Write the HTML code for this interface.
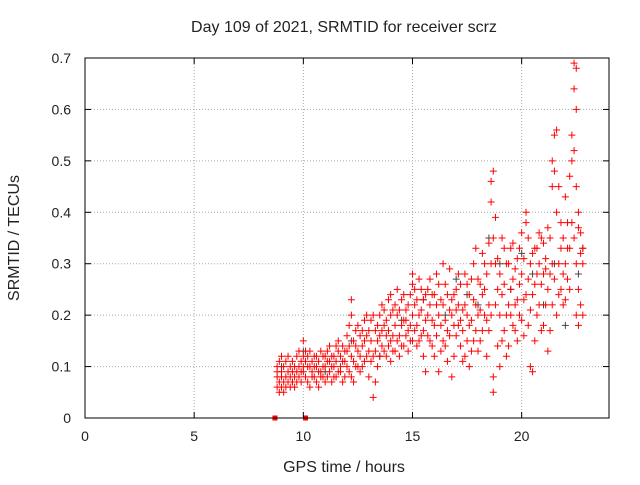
<!DOCTYPE html>
<html><head><meta charset="utf-8"><style>
body{margin:0;background:#fff;}
svg text{font-family:"Liberation Sans",sans-serif;font-size:14px;fill:#222;}
svg text.big{font-size:16px;}
</style></head><body>
<svg id="chart" width="640" height="480" xmlns="http://www.w3.org/2000/svg">
<rect width="640" height="480" fill="#fff"/>
<g id="grid"></g>
<g id="marks"></g>
<rect x="85" y="58" width="524" height="360" fill="none" stroke="#000" stroke-width="1"/>
<g id="axes"></g>
<text class="big" x="344" y="32" text-anchor="middle">Day 109 of 2021, SRMTID for receiver scrz</text>
<text class="big" x="344" y="472" text-anchor="middle">GPS time / hours</text>
<text class="big" x="19" y="238" text-anchor="middle" transform="rotate(-90 19 238)">SRMTID / TECUs</text>
</svg>
<script>
const xTicks=[0,5,10,15,20];
const yTicks=[0,0.1,0.2,0.3,0.4,0.5,0.6,0.7];
const yTickLabels=["0","0.1","0.2","0.3","0.4","0.5","0.6","0.7"];
const redSeries=[
[8.8,[0.08,0.1,0.06,0.09]],[8.9,[0.07,0.11,0.05]],[9.0,[0.09,0.06,0.12,0.08]],[9.1,[0.05,0.1,0.07]],
[9.2,[0.08,0.11,0.06]],[9.3,[0.09,0.07,0.12]],[9.4,[0.06,0.1,0.08]],[9.5,[0.09,0.07,0.11]],
[9.6,[0.08,0.1,0.06]],[9.7,[0.09,0.12,0.07]],[9.8,[0.1,0.08,0.13]],[9.9,[0.09,0.11,0.07]],
[10.0,[0.12,0.15,0.09,0.1]],[10.1,[0.08,0.11,0.13]],[10.2,[0.1,0.07,0.12]],[10.4,[0.09,0.11,0.08]],
[10.6,[0.1,0.12,0.07]],[10.8,[0.09,0.13,0.08]],[11.0,[0.1,0.07,0.12]],[11.2,[0.09,0.14,0.11]],
[11.4,[0.08,0.12,0.1]],[11.6,[0.13,0.09,0.15]],[11.8,[0.07,0.11,0.14]],[12.0,[0.1,0.16,0.13]],
[12.2,[0.23,0.2,0.12,0.08]],[12.4,[0.14,0.1,0.17]],[12.6,[0.12,0.16,0.09]],[12.8,[0.15,0.19,0.11]],
[13.0,[0.13,0.08,0.17]],[13.2,[0.04,0.12,0.2]],[13.4,[0.15,0.1,0.18]],[13.6,[0.22,0.14,0.17]],
[13.8,[0.12,0.19,0.16]],[14.0,[0.24,0.15,0.2,0.11]],[14.2,[0.18,0.13,0.22]],[14.4,[0.16,0.21,0.12]],
[14.6,[0.19,0.14,0.24]],[14.8,[0.17,0.22,0.13]],[15.0,[0.26,0.2,0.15,0.28]],[15.2,[0.18,0.23,0.14]],
[15.4,[0.21,0.16,0.25]],[15.6,[0.19,0.09,0.24]],[15.8,[0.22,0.15,0.27]],[16.0,[0.18,0.12,0.24]],
[16.2,[0.2,0.09,0.26]],[16.4,[0.15,0.22,0.3]],[16.6,[0.17,0.24,0.11]],[16.8,[0.2,0.08,0.23]],
[17.0,[0.25,0.16,0.21]],[17.2,[0.14,0.26,0.19]],[17.4,[0.22,0.12,0.28]],[17.6,[0.18,0.24,0.1]],
[17.8,[0.23,0.15,0.3]],[18.0,[0.2,0.27,0.13]],[18.2,[0.24,0.17,0.32]],[18.4,[0.19,0.28,0.12]],
[18.6,[0.46,0.42,0.3,0.2]],[18.7,[0.48,0.35,0.08,0.05]],[18.9,[0.25,0.14,0.31]],[19.0,[0.2,0.28,0.1]],
[19.2,[0.26,0.17,0.33]],[19.4,[0.22,0.3,0.14]],[19.6,[0.27,0.18,0.34]],[19.8,[0.23,0.31,0.15]],
[20.0,[0.28,0.19,0.36]],[20.2,[0.38,0.4,0.24]],[20.4,[0.3,0.1,0.21]],[20.6,[0.33,0.15,0.26]],
[20.8,[0.22,0.3,0.36]],[21.0,[0.28,0.18,0.34]],[21.2,[0.25,0.37,0.13]],[21.4,[0.45,0.5,0.3,0.22]],
[21.5,[0.55,0.48,0.27]],[21.6,[0.56,0.4,0.2]],[21.8,[0.33,0.25,0.38]],[22.0,[0.43,0.23,0.3]],
[22.2,[0.47,0.33,0.25]],[22.3,[0.5,0.55,0.38]],[22.4,[0.69,0.64,0.52,0.35]],[22.5,[0.68,0.6,0.45,0.3,0.2]],
[22.6,[0.4,0.37,0.25,0.18]],[22.7,[0.32,0.36,0.22]]
];
const redSeries2=[
[10.3,[0.1,0.13,0.06]],[10.5,[0.12,0.08,0.1]],[10.7,[0.11,0.06,0.09]],[10.9,[0.12,0.1,0.08]],
[11.1,[0.11,0.08,0.13]],[11.3,[0.1,0.12,0.07]],[11.5,[0.11,0.14,0.08]],[11.7,[0.1,0.12,0.09]],
[11.9,[0.13,0.08,0.11]],[12.1,[0.14,0.09,0.18]],[12.3,[0.11,0.15,0.07]],[12.5,[0.13,0.18,0.1]],
[12.7,[0.14,0.1,0.17]],[12.9,[0.12,0.2,0.16]],[13.1,[0.15,0.11,0.19]],[13.3,[0.13,0.17,0.07]],
[13.5,[0.16,0.2,0.12]],[13.7,[0.18,0.13,0.21]],[13.9,[0.14,0.17,0.23]],[14.1,[0.16,0.21,0.13]],
[14.3,[0.2,0.15,0.25]],[14.5,[0.18,0.23,0.14]],[14.7,[0.21,0.16,0.19]],[14.9,[0.15,0.24,0.18]],
[15.1,[0.22,0.17,0.25]],[15.3,[0.2,0.27,0.15]],[15.5,[0.17,0.23,0.12]],[15.7,[0.25,0.2,0.16]],
[15.9,[0.19,0.24,0.14]],[16.1,[0.22,0.16,0.28]],[16.3,[0.18,0.23,0.13]],[16.5,[0.26,0.19,0.14]],
[16.7,[0.21,0.29,0.16]],[16.9,[0.18,0.24,0.12]],[17.1,[0.22,0.18,0.28]],[17.3,[0.17,0.21,0.11]],
[17.5,[0.26,0.2,0.15]],[17.7,[0.19,0.27,0.13]],[17.9,[0.22,0.33,0.17]],[18.1,[0.21,0.26,0.15]],
[18.3,[0.2,0.3,0.25]],[18.5,[0.22,0.34,0.17]],[18.8,[0.3,0.22,0.39]],[19.1,[0.24,0.35,0.15]],
[19.3,[0.3,0.2,0.12]],[19.5,[0.25,0.33,0.2]],[19.7,[0.17,0.29,0.22]],[19.9,[0.26,0.33,0.2]],
[20.1,[0.23,0.31,0.16]],[20.3,[0.35,0.27,0.18]],[20.5,[0.24,0.32,0.09]],[20.7,[0.28,0.2,0.33]],
[20.9,[0.26,0.35,0.17]],[21.1,[0.31,0.22,0.29]],[21.3,[0.35,0.28,0.17]],[21.7,[0.45,0.3,0.24]],
[21.9,[0.28,0.35,0.22]],[22.1,[0.38,0.27,0.33]],[22.8,[0.3,0.2,0.33]]
];
const greyTimes=[9.0,9.5,10.0,11.0,12.2,13.5,14.5,15.5,16.5,17.0,17.5,18.0,18.5,19.0,19.5,20.0,20.5,21.0,21.5,22.0,22.6,22.8];
const greyValues=[0.1,0.07,0.13,0.09,0.15,0.12,0.19,0.23,0.2,0.27,0.24,0.22,0.35,0.3,0.25,0.32,0.28,0.22,0.3,0.18,0.28,0.33];
const zeroTimes=[8.7,10.1];
const NS="http://www.w3.org/2000/svg";
function xs(t){return 85+t*(524/24);}
function ys(v){return 418-v*(360/0.7);}
const grid=document.getElementById('grid'),axes=document.getElementById('axes'),marks=document.getElementById('marks');
function mk(tag,attrs,parent){const e=document.createElementNS(NS,tag);for(const k in attrs)e.setAttribute(k,attrs[k]);parent.appendChild(e);return e;}
xTicks.forEach(t=>{
  const x=xs(t);
  if(t>0){const g=mk('line',{x1:x,x2:x,y1:58,y2:418,stroke:'#aaa','stroke-dasharray':'1,2'},grid);
  
  }
  mk('line',{x1:x,x2:x,y1:418,y2:412,stroke:'#000'},axes);
  mk('line',{x1:x,x2:x,y1:58,y2:64,stroke:'#000'},axes);
  const l=mk('text',{x:x,y:441,'text-anchor':'middle'},axes);l.textContent=String(t);
  
  
});
yTicks.forEach((v,i)=>{
  const y=ys(v);
  if(v>0&&v<0.7){const g=mk('line',{x1:85,x2:609,y1:y,y2:y,stroke:'#aaa','stroke-dasharray':'1,2'},grid);
  
  }
  mk('line',{x1:85,x2:91,y1:y,y2:y,stroke:'#000'},axes);
  mk('line',{x1:603,x2:609,y1:y,y2:y,stroke:'#000'},axes);
  const l=mk('text',{x:71,y:y+5,'text-anchor':'end'},axes);l.textContent=yTickLabels[i];
  
  
});
function plus(t,v,color,name){
  const x=xs(t),y=ys(v);
  const p=mk('path',{d:`M${x-3.5},${y}H${x+3.5}M${x},${y-3.5}V${y+3.5}`,stroke:color,'stroke-width':1,fill:'none'},marks);
  
  
}
greyTimes.forEach((t,i)=>plus(t,greyValues[i],'#444','grey-point'));
redSeries.forEach(([t,vals])=>vals.forEach(v=>plus(t,v,'#f00','red-point')));
redSeries2.forEach(([t,vals])=>vals.forEach(v=>plus(t,v,'#f00','red-point')));
zeroTimes.forEach(t=>{
  const r=mk('rect',{x:xs(t)-2.5,y:ys(0)-2.5,width:5,height:5,fill:'#f00'},marks);
  
  
});
</script>
</body></html>
